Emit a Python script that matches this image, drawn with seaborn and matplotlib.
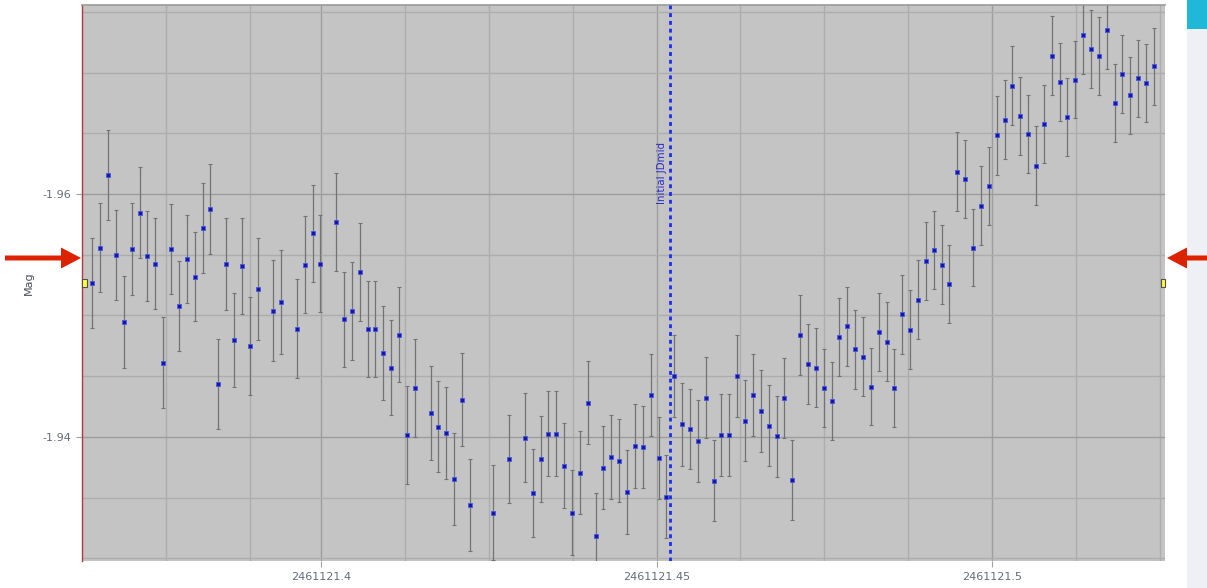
import matplotlib
matplotlib.use("Agg")
import matplotlib.pyplot as plt
from matplotlib.patches import Rectangle, FancyArrow
from matplotlib.ticker import FuncFormatter
import pandas as pd
import seaborn as sns

plt.rcParams["font.family"] = ["DejaVu Sans"]
plt.rcParams["axes.unicode_minus"] = False

JD_BASE = 2461121.0

# Observation times (days after JD_BASE)
t_offset = [
    0.36588, 0.36705, 0.36823, 0.36940, 0.37057, 0.37174, 0.37292, 0.37409,
    0.37526, 0.37643, 0.37761, 0.37878, 0.37995, 0.38112, 0.38230, 0.38347,
    0.38464, 0.38581, 0.38699, 0.38816, 0.38933, 0.39050, 0.39285, 0.39402,
    0.39637, 0.39754, 0.39871, 0.39988, 0.40223, 0.40340, 0.40457, 0.40575,
    0.40692, 0.40809, 0.40926, 0.41044, 0.41161, 0.41278, 0.41395, 0.41630,
    0.41747, 0.41864, 0.41982, 0.42099, 0.42216, 0.42568, 0.42802, 0.43037,
    0.43154, 0.43271, 0.43389, 0.43506, 0.43623, 0.43740, 0.43858, 0.43975,
    0.44092, 0.44209, 0.44327, 0.44444, 0.44561, 0.44678, 0.44796, 0.44913,
    0.45030, 0.45147, 0.45265, 0.45382, 0.45499, 0.45616, 0.45734, 0.45851,
    0.45968, 0.46085, 0.46203, 0.46320, 0.46437, 0.46554, 0.46672, 0.46789,
    0.46906, 0.47023, 0.47141, 0.47258, 0.47375, 0.47492, 0.47610, 0.47727,
    0.47844, 0.47961, 0.48079, 0.48196, 0.48313, 0.48430, 0.48548, 0.48665,
    0.48782, 0.48899, 0.49017, 0.49134, 0.49251, 0.49368, 0.49486, 0.49603,
    0.49720, 0.49837, 0.49955, 0.50072, 0.50189, 0.50306, 0.50424, 0.50541,
    0.50658, 0.50775, 0.50893, 0.51010, 0.51127, 0.51244, 0.51362, 0.51479,
    0.51596, 0.51713, 0.51831, 0.51948, 0.52065, 0.52182, 0.52300, 0.52417,
]

# Differential magnitude
mag = [
    -1.95270, -1.95558, -1.96154, -1.95498, -1.94949, -1.95547, -1.95846, -1.95490,
    -1.95426, -1.94612, -1.95547, -1.95078, -1.95468, -1.95319, -1.95718, -1.95877,
    -1.94434, -1.95426, -1.94801, -1.95407, -1.94751, -1.95218, -1.95040, -1.95109,
    -1.94891, -1.95418, -1.95677, -1.95426, -1.95767, -1.94971, -1.95040, -1.95358,
    -1.94891, -1.94891, -1.94691, -1.94570, -1.94842, -1.94016, -1.94403, -1.94195,
    -1.94085, -1.94035, -1.93657, -1.94305, -1.93438, -1.93377, -1.93816, -1.93994,
    -1.93537, -1.93816, -1.94025, -1.94025, -1.93764, -1.93377, -1.93706, -1.94282,
    -1.93188, -1.93747, -1.93835, -1.93805, -1.93547, -1.93926, -1.93915, -1.94343,
    -1.93827, -1.93509, -1.94502, -1.94105, -1.94066, -1.93965, -1.94323, -1.93638,
    -1.94016, -1.94016, -1.94502, -1.94134, -1.94343, -1.94214, -1.94093, -1.94006,
    -1.94323, -1.93646, -1.94842, -1.94603, -1.94570, -1.94403, -1.94294, -1.94823,
    -1.94911, -1.94722, -1.94661, -1.94414, -1.94862, -1.94782, -1.94403, -1.95010,
    -1.94881, -1.95130, -1.95449, -1.95539, -1.95418, -1.95259, -1.96184, -1.96123,
    -1.95558, -1.95904, -1.96066, -1.96483, -1.96612, -1.96891, -1.96642, -1.96494,
    -1.96233, -1.96574, -1.97138, -1.96922, -1.96634, -1.96941, -1.97309, -1.97191,
    -1.97138, -1.97350, -1.96751, -1.96990, -1.96812, -1.96952, -1.96911, -1.97051,
]

# One-sigma magnitude uncertainty
mag_err = [
    0.00369, 0.00367, 0.00369, 0.00373, 0.00379, 0.00379, 0.00373, 0.00374,
    0.00374, 0.00373, 0.00369, 0.00368, 0.00363, 0.00366, 0.00369, 0.00374,
    0.00370, 0.00379, 0.00387, 0.00393, 0.00402, 0.00416, 0.00413, 0.00427,
    0.00407, 0.00399, 0.00398, 0.00398, 0.00403, 0.00391, 0.00403, 0.00405,
    0.00395, 0.00395, 0.00388, 0.00393, 0.00392, 0.00402, 0.00402, 0.00387,
    0.00377, 0.00379, 0.00379, 0.00383, 0.00377, 0.00393, 0.00363, 0.00364,
    0.00360, 0.00354, 0.00350, 0.00350, 0.00349, 0.00349, 0.00344, 0.00343,
    0.00349, 0.00344, 0.00343, 0.00343, 0.00342, 0.00344, 0.00339, 0.00339,
    0.00337, 0.00340, 0.00340, 0.00340, 0.00333, 0.00339, 0.00335, 0.00333,
    0.00335, 0.00335, 0.00335, 0.00333, 0.00336, 0.00335, 0.00335, 0.00333,
    0.00329, 0.00329, 0.00328, 0.00329, 0.00324, 0.00323, 0.00323, 0.00325,
    0.00324, 0.00325, 0.00325, 0.00317, 0.00321, 0.00325, 0.00325, 0.00325,
    0.00325, 0.00324, 0.00323, 0.00325, 0.00324, 0.00323, 0.00324, 0.00320,
    0.00319, 0.00325, 0.00325, 0.00325, 0.00324, 0.00325, 0.00323, 0.00319,
    0.00323, 0.00321, 0.00325, 0.00320, 0.00320, 0.00318, 0.00319, 0.00321,
    0.00321, 0.00321, 0.00320, 0.00319, 0.00319, 0.00319, 0.00321, 0.00319,
]

x_ticks = [2461121.40, 2461121.45, 2461121.50]
y_ticks = [-1.96, -1.94]
jd_mid = 2461121.45199
mid_label = "Initial JDmid"
y_label = "Mag"

x_range = (JD_BASE + 0.36433, JD_BASE + 0.52582)
y_range = (-1.92979, -1.97556)  # brighter magnitudes at the top

df = pd.DataFrame({
    "jd": [JD_BASE + t for t in t_offset],
    "mag": mag,
    "err": mag_err,
})

W, H = 1207, 588
fig = plt.figure(figsize=(W / 100, H / 100), dpi=100)
fig.patch.set_facecolor("white")
ax = fig.add_axes([82 / W, 27 / H, 1083 / W, 556 / H])
ax.set_facecolor("#c4c4c4")

# Grid: major every 0.05 d / 0.02 mag, minor every 0.0125 d / 0.005 mag
x_minor = [x_range[0] + 0.0125, x_range[0] + 0.025,
           JD_BASE + 0.4125, JD_BASE + 0.425, JD_BASE + 0.4375,
           JD_BASE + 0.4625, JD_BASE + 0.475, JD_BASE + 0.4875,
           JD_BASE + 0.5125, JD_BASE + 0.525]
y_minor = [-1.975, -1.97, -1.965, -1.955, -1.95, -1.945, -1.935, -1.93]
ax.set_xticks(x_ticks)
ax.set_xticks(x_minor, minor=True)
ax.set_yticks(y_ticks)
ax.set_yticks(y_minor, minor=True)
ax.grid(which="major", color="#9d9d9d", linewidth=1.0, zorder=0)
ax.grid(which="minor", color="#adadad", linewidth=1.0, zorder=0)
ax.set_axisbelow(True)

ax.set_xlim(*x_range)
ax.set_ylim(*y_range)

# Error bars, then the points on top
ax.errorbar(df["jd"], df["mag"], yerr=df["err"], fmt="none",
            ecolor="#737373", elinewidth=0.9, capsize=1.3, capthick=0.8,
            zorder=2)
sns.scatterplot(data=df, x="jd", y="mag", ax=ax, marker="s", s=12,
                color="#1616a8", edgecolor="#4a58e0", linewidth=0.6,
                zorder=3, legend=False)

# Reference epoch marker
ax.axvline(jd_mid, color="#1a2cf0", linewidth=2.0, linestyle=(0, (1.4, 1.4)),
           zorder=4)
ax.annotate(mid_label, xy=(jd_mid, 0.698), xycoords=("data", "axes fraction"),
            xytext=(-5.5, 0), textcoords="offset points", rotation=90,
            ha="center", va="center", fontsize=7.4, color="#2a2ad0")

ax.xaxis.set_major_formatter(FuncFormatter(
    lambda v, p: f"{v:.2f}".rstrip("0").rstrip(".")))
ax.yaxis.set_major_formatter(FuncFormatter(lambda v, p: f"{v:.2f}"))

tick_col = "#646c78"
ax.tick_params(which="major", length=4.3, width=0.8, color="#a0a0a0",
               labelsize=8, labelcolor=tick_col, pad=3.5)
ax.tick_params(which="minor", length=0)

ax.set_xlabel("")
ax.set_ylabel(y_label, fontsize=8, color="#4a4f58")
ax.yaxis.set_label_coords(-0.044, 0.5)

for side in ("right", "bottom"):
    ax.spines[side].set_visible(False)
ax.spines["left"].set_color("#b03a3a")
ax.spines["left"].set_linewidth(1.0)
ax.spines["top"].set_color("#9a9a9a")
ax.spines["top"].set_linewidth(1.2)

# Small yellow handles at both ends of the plot
for xa in (0.0, 1.0 - 4.5 / 1083):
    ax.add_patch(Rectangle((xa, 0.4925), 4.5 / 1083, 8 / 556,
                           transform=ax.transAxes, facecolor="#ffff40",
                           edgecolor="#505050", linewidth=0.8,
                           clip_on=False, zorder=6))

# Red level arrows on both sides
ya = 1 - 258 / H
fig.patches.append(FancyArrow(5 / W, ya, 56 / W, 0, width=5 / H,
                              head_width=21 / H, head_length=20 / W,
                              length_includes_head=False,
                              transform=fig.transFigure, color="#dd2200",
                              linewidth=0))
fig.patches.append(FancyArrow(1207 / W, ya, -20 / W, 0, width=5 / H,
                              head_width=21 / H, head_length=20 / W,
                              length_includes_head=False,
                              transform=fig.transFigure, color="#dd2200",
                              linewidth=0, zorder=5))

# Scrollbar strip on the right
fig.patches.append(Rectangle((1187 / W, 0), 20 / W, 1, transform=fig.transFigure,
                             facecolor="#eff0f5", edgecolor="none", zorder=1))
fig.patches.append(Rectangle((1187 / W, 1 - 29 / H), 20 / W, 29 / H,
                             transform=fig.transFigure, facecolor="#20b8d6",
                             edgecolor="none", zorder=2))

fig.savefig("out.png", dpi=100)
